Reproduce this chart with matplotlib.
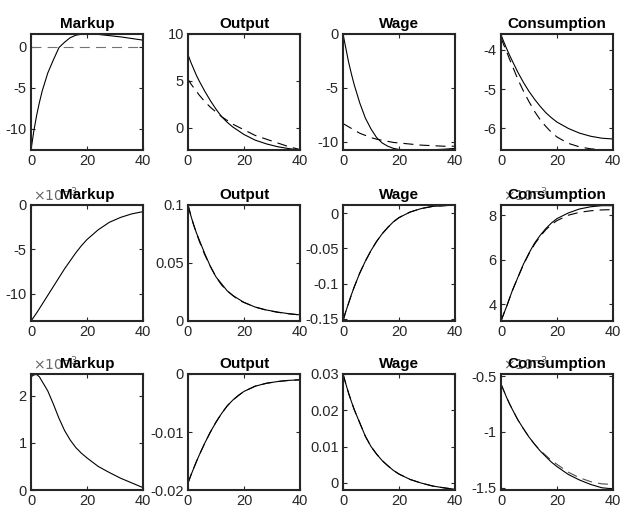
import matplotlib
matplotlib.use('Agg')
import matplotlib.pyplot as plt

plt.rcParams['font.family'] = ['Liberation Sans', 'DejaVu Sans']

# time grid shared by every series
T = [0, 1, 2, 3, 4, 6, 8, 10, 12, 14, 16, 18, 20, 24, 28, 32, 36, 40]

titles = ['Markup', 'Output', 'Wage', 'Consumption']

# row 1
markup1 = [-12.6, -10.3, -8.4, -6.8, -5.4, -3.2, -1.6, -0.1, 0.55, 1.1, 1.4, 1.52, 1.55, 1.5, 1.35, 1.2, 1.0, 0.8]
markup1_d = [0] * len(T)
output1 = [7.8, 7.0, 6.3, 5.6, 5.0, 3.9, 2.9, 2.0, 1.2, 0.6, 0.1, -0.3, -0.7, -1.3, -1.7, -2.0, -2.2, -2.35]
output1_d = [5.2, 4.7, 4.3, 3.9, 3.5, 2.8, 2.2, 1.7, 1.2, 0.8, 0.4, 0.1, -0.2, -0.8, -1.2, -1.6, -2.0, -2.3]
wage1 = [0, -1.3, -2.6, -3.7, -4.7, -6.4, -7.8, -8.8, -9.6, -10.1, -10.4, -10.6, -10.7, -10.75, -10.75, -10.72, -10.68, -10.6]
wage1_d = [-8.3, -8.45, -8.6, -8.75, -8.9, -9.2, -9.4, -9.6, -9.75, -9.85, -9.95, -10.05, -10.1, -10.2, -10.3, -10.35, -10.4, -10.4]
cons1 = [-3.62, -3.8, -3.97, -4.13, -4.28, -4.57, -4.83, -5.06, -5.26, -5.44, -5.6, -5.73, -5.84, -6.0, -6.12, -6.2, -6.25, -6.27]
cons1_d = [-3.7, -3.88, -4.05, -4.23, -4.4, -4.75, -5.05, -5.32, -5.57, -5.78, -5.95, -6.1, -6.22, -6.38, -6.47, -6.52, -6.54, -6.55]

# row 2 (markup and consumption in units of 1e-3)
markup2 = [-13.1, -12.65, -12.2, -11.7, -11.2, -10.2, -9.2, -8.2, -7.2, -6.3, -5.4, -4.6, -3.9, -2.8, -1.95, -1.4, -1.0, -0.75]
output2 = [0.100, 0.091, 0.083, 0.076, 0.070, 0.058, 0.047, 0.038, 0.032, 0.026, 0.022, 0.019, 0.016, 0.012, 0.0095, 0.0077, 0.0063, 0.0053]
output2_d = [0.100, 0.091, 0.083, 0.076, 0.069, 0.057, 0.047, 0.038, 0.031, 0.026, 0.022, 0.018, 0.016, 0.012, 0.0093, 0.0075, 0.0062, 0.0052]
wage2 = [-0.153, -0.140, -0.128, -0.116, -0.105, -0.085, -0.068, -0.053, -0.040, -0.029, -0.020, -0.012, -0.006, 0.002, 0.007, 0.010, 0.011, 0.012]
cons2 = [3.25, 3.58, 3.9, 4.25, 4.6, 5.2, 5.8, 6.3, 6.75, 7.1, 7.4, 7.65, 7.85, 8.1, 8.28, 8.38, 8.43, 8.43]
cons2_d = [3.25, 3.58, 3.9, 4.25, 4.6, 5.2, 5.78, 6.27, 6.7, 7.05, 7.35, 7.58, 7.76, 8.0, 8.13, 8.2, 8.24, 8.25]

# row 3 (markup and consumption in units of 1e-3)
markup3 = [2.4, 2.44, 2.45, 2.4, 2.3, 2.1, 1.82, 1.52, 1.26, 1.06, 0.9, 0.78, 0.68, 0.5, 0.37, 0.25, 0.15, 0.05]
markup3_d = [0] * len(T)
output3 = [-0.0188, -0.0175, -0.0163, -0.0151, -0.0140, -0.0119, -0.0100, -0.0083, -0.0068, -0.0055, -0.0045, -0.0037, -0.0030, -0.0021, -0.0016, -0.0013, -0.0011, -0.0010]
wage3 = [0.030, 0.0273, 0.0247, 0.0224, 0.0202, 0.0165, 0.0128, 0.0100, 0.0079, 0.0061, 0.0047, 0.0034, 0.0024, 0.0009, -0.0001, -0.0009, -0.0014, -0.0018]
cons3 = [-0.57, -0.63, -0.69, -0.745, -0.795, -0.89, -0.97, -1.045, -1.11, -1.17, -1.22, -1.27, -1.31, -1.38, -1.43, -1.47, -1.5, -1.51]
cons3_d = [-0.57, -0.63, -0.69, -0.745, -0.795, -0.89, -0.97, -1.045, -1.11, -1.165, -1.21, -1.255, -1.29, -1.36, -1.41, -1.445, -1.465, -1.47]

# (solid, dashed, dashed colour, ylim, yticks, exponent)
panels = [
    [(markup1, markup1_d, '0.45', (-12.6, 1.55), [-10, -5, 0], None),
     (output1, output1_d, 'k', (-2.35, 10), [0, 5, 10], None),
     (wage1, wage1_d, 'k', (-10.75, 0), [-10, -5, 0], None),
     (cons1, cons1_d, 'k', (-6.55, -3.6), [-6, -5, -4], None)],
    [(markup2, None, 'k', (-13.1, 0), [-10, -5, 0], '-3'),
     (output2, output2_d, 'k', (0, 0.1), [0, 0.05, 0.1], None),
     (wage2, wage2, 'k', (-0.1535, 0.012), [-0.15, -0.1, -0.05, 0], None),
     (cons2, cons2_d, 'k', (3.25, 8.46), [4, 6, 8], '-3')],
    [(markup3, markup3_d, '0.45', (0, 2.46), [0, 1, 2], '-3'),
     (output3, output3, 'k', (-0.02, 0), [-0.02, -0.01, 0], None),
     (wage3, wage3, 'k', (-0.002, 0.03), [0, 0.01, 0.02, 0.03], None),
     (cons3, cons3_d, '0.3', (-1.52, -0.48), [-1.5, -1, -0.5], '-3')],
]

W, H = 621, 508
lefts = [31, 188, 343, 501]
tops = [34, 205, 374]
aw, ah = 112, 116

fig = plt.figure(figsize=(W / 100, H / 100), dpi=100)
dark = '0.15'

for r, row in enumerate(panels):
    for c, (solid, dashed, dcol, ylim, yt, expo) in enumerate(row):
        ax = fig.add_axes([lefts[c] / W, 1 - (tops[r] + ah) / H, aw / W, ah / H])
        if dashed is not None:
            ax.plot(T, dashed, '--', color=dcol, lw=0.8, dashes=(9, 5.5))
        ax.plot(T, solid, '-', color='k', lw=0.8)
        ax.set_xlim(0, 40)
        ax.set_ylim(*ylim)
        ax.set_xticks([0, 20, 40])
        ax.set_yticks(yt)
        ax.set_yticklabels(['%g' % v for v in yt])
        ax.tick_params(direction='in', length=3, width=0.8, top=True, right=True,
                       labelsize=10.5, colors=dark, labelcolor=dark, pad=3)
        for s in ax.spines.values():
            s.set_linewidth(1.5)
            s.set_color(dark)
        if expo:
            ax.text(0.02, 1.01, r'$\times10^{%s}$' % expo, transform=ax.transAxes,
                    fontsize=10, color='0.4', ha='left', va='bottom')
        ax.set_title(titles[c], fontsize=11, fontweight='bold', pad=4)

fig.savefig('out.png', dpi=100)
